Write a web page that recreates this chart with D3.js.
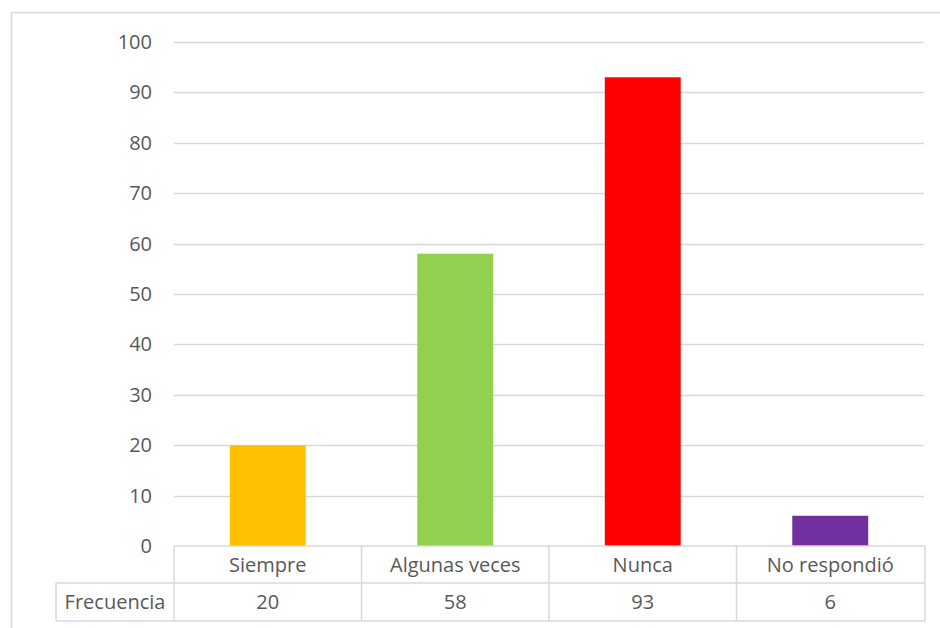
<!DOCTYPE html>
<html><head><meta charset="utf-8">
<script src="https://cdn.jsdelivr.net/npm/d3@7/dist/d3.min.js"></script>
<style>body{margin:0;background:#fff;}svg{display:block;}</style>
</head><body>
<svg id="c" width="940" height="628"></svg>
<script>
const categories = ["Siempre", "Algunas veces", "Nunca", "No respondió"];
const values = [20, 58, 93, 6];
const colors = ["#FFC000", "#92D050", "#FF0000", "#7030A0"];
const yTicks = [0, 10, 20, 30, 40, 50, 60, 70, 80, 90, 100];
const seriesName = "Frecuencia";

(function () {
const svg = d3.select("#c");
const font = "'Open Sans', sans-serif";
const txt = "#595959";
const grid = "#d9d9d9";
const fs = 20;

// outer chart border (cropped)
svg.append("rect").attr("x", 11.5).attr("y", 12.5).attr("width", 1000).attr("height", 1000)
  .attr("fill", "none").attr("stroke", grid).attr("stroke-width", 1.5);

const pLeft = 174, pRight = 924, pTop = 42, pBottom = 546;
const x = d3.scaleBand().domain(categories).range([pLeft, pRight]).paddingInner(0.595).paddingOuter(0.2975);
const xc = d3.scaleBand().domain(categories).range([pLeft, pRight]);
const y = d3.scaleLinear().domain([0, 100]).range([pBottom, pTop]);

// gridlines
svg.append("g").selectAll("line").data(yTicks.filter(d => d > 0)).join("line")
  .attr("x1", pLeft).attr("x2", pRight)
  .attr("y1", d => Math.round(y(d)) + 0.5).attr("y2", d => Math.round(y(d)) + 0.5)
  .attr("stroke", grid).attr("stroke-width", 1.3);

// y axis labels
const yAxis = d3.axisLeft(y).tickValues(yTicks).tickSize(0).tickPadding(0);
const ya = svg.append("g").attr("transform", `translate(${152},0)`).call(yAxis);
ya.select(".domain").remove();
ya.selectAll("text").attr("font-family", font).attr("font-size", fs).attr("fill", txt);

// bars
svg.append("g").selectAll("rect").data(categories).join("rect")
  .attr("x", d => x(d)).attr("width", x.bandwidth())
  .attr("y", (d, i) => y(values[i])).attr("height", (d, i) => y(0) - y(values[i]))
  .attr("fill", (d, i) => colors[i]);

// data table
const row1 = pBottom, row2 = 583, row3 = 621, tableLeft = 56;
const tg = svg.append("g").attr("stroke", grid).attr("stroke-width", 1.5).attr("fill", "none");
tg.append("line").attr("x1", pLeft).attr("x2", pRight + 1).attr("y1", row1).attr("y2", row1);
tg.append("line").attr("x1", tableLeft).attr("x2", pRight + 1).attr("y1", row2).attr("y2", row2);
tg.append("line").attr("x1", tableLeft).attr("x2", pRight + 1).attr("y1", row3).attr("y2", row3);
tg.append("line").attr("x1", tableLeft).attr("x2", tableLeft).attr("y1", row2).attr("y2", row3);
const bounds = categories.map(d => xc(d)).concat([pRight + 1]);
tg.selectAll("line.v").data(bounds).join("line").attr("class", "v")
  .attr("x1", d => d).attr("x2", d => d).attr("y1", row1).attr("y2", row3);

svg.append("g").selectAll("text").data(categories).join("text")
  .attr("x", d => xc(d) + xc.bandwidth() / 2).attr("y", (row1 + row2) / 2 + 7)
  .attr("text-anchor", "middle").attr("font-family", font).attr("font-size", fs).attr("fill", txt)
  .text(d => d);
svg.append("g").selectAll("text").data(values).join("text")
  .attr("x", (d, i) => xc(categories[i]) + xc.bandwidth() / 2).attr("y", (row2 + row3) / 2 + 7)
  .attr("text-anchor", "middle").attr("font-family", font).attr("font-size", fs).attr("fill", txt)
  .text(d => d);
svg.append("text").attr("x", (tableLeft + pLeft) / 2).attr("y", (row2 + row3) / 2 + 7)
  .attr("text-anchor", "middle").attr("font-family", font).attr("font-size", fs).attr("fill", txt)
  .text(seriesName);
})();
</script>
</body></html>
